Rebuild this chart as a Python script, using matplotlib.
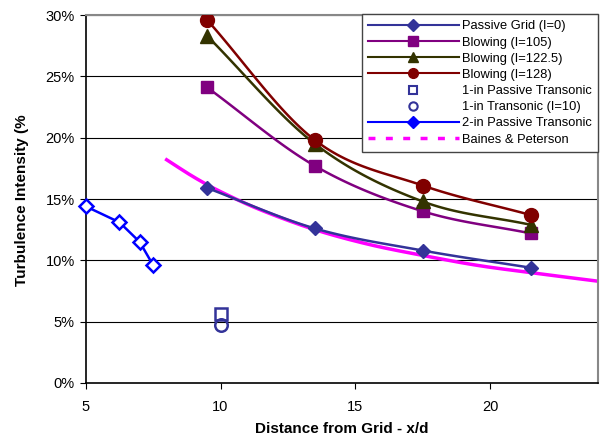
import matplotlib
matplotlib.use("Agg")
import matplotlib.pyplot as plt
from matplotlib.lines import Line2D
import numpy as np

plt.rcParams["font.family"] = ["Liberation Sans", "DejaVu Sans"]

# data (x/d, turbulence intensity %)
grid_x = [9.5, 13.5, 17.5, 21.5]
passive_grid = [15.9, 12.6, 10.8, 9.4]
blowing_105 = [24.1, 17.7, 14.0, 12.2]
blowing_1225 = [28.3, 19.5, 14.8, 12.9]
blowing_128 = [29.6, 19.8, 16.1, 13.7]

one_in_x = [10]
one_in_passive = [5.6]
one_in_transonic = [4.7]

two_in_x = [5.0, 6.25, 7.0, 7.5]
two_in_passive = [14.4, 13.1, 11.5, 9.6]

baines_x = [8, 9, 10, 11.5, 13.5, 15.5, 17.5, 19.5, 21.5, 24]
baines_y = [18.2, 16.8, 15.6, 14.1, 12.5, 11.3, 10.4, 9.6, 9.0, 8.3]

x_ticks = [5, 10, 15, 20]
y_ticks = [0, 5, 10, 15, 20, 25, 30]


def smooth(x, y, n=30):
    # Catmull-Rom curve through the points, like Excel's smoothed line
    x = np.asarray(x, float)
    y = np.asarray(y, float)
    px = np.concatenate([[2 * x[0] - x[1]], x, [2 * x[-1] - x[-2]]])
    py = np.concatenate([[2 * y[0] - y[1]], y, [2 * y[-1] - y[-2]]])
    t = np.linspace(0, 1, n)
    xs, ys = [], []
    for i in range(1, len(px) - 2):
        for p, out in ((px, xs), (py, ys)):
            p0, p1, p2, p3 = p[i - 1], p[i], p[i + 1], p[i + 2]
            out.append(0.5 * (2 * p1 + (-p0 + p2) * t
                              + (2 * p0 - 5 * p1 + 4 * p2 - p3) * t ** 2
                              + (-p0 + 3 * p1 - 3 * p2 + p3) * t ** 3))
    return np.concatenate(xs), np.concatenate(ys)


def main():
    fig = plt.figure(figsize=(6.04, 4.42), dpi=100)
    ax = fig.add_axes([0.142, 0.1335, 0.848, 0.8325])

    for v in y_ticks[1:]:
        ax.axhline(v, color="black", lw=0.8, zorder=0)

    ax.plot(*smooth(baines_x, baines_y), color="#FF00FF", lw=2.5, zorder=2)

    series = [
        (passive_grid, "#333399", "D", 7),
        (blowing_105, "#800080", "s", 9),
        (blowing_1225, "#333300", "^", 10),
        (blowing_128, "#800000", "o", 10),
    ]
    for vals, col, mk, ms in series:
        ax.plot(*smooth(grid_x, vals), color=col, lw=1.8, zorder=3)
        ax.plot(grid_x, vals, ls="none", marker=mk, color=col, ms=ms, zorder=4)

    ax.plot(one_in_x, one_in_passive, ls="none", marker="s", ms=9,
            mfc="none", mec="#333399", mew=1.8, zorder=4)
    ax.plot(one_in_x, one_in_transonic, ls="none", marker="o", ms=9,
            mfc="none", mec="#333399", mew=1.8, zorder=4)
    ax.plot(two_in_x, two_in_passive, color="#0000FF", lw=1.8, marker="D",
            ms=7, mfc="white", mec="#0000FF", mew=1.8, zorder=4, clip_on=False)

    ax.set_xlim(5, 24)
    ax.set_ylim(0, 30)
    ax.set_xticks(x_ticks)
    ax.set_yticks(y_ticks)
    ax.set_yticklabels([f"{v}%" for v in y_ticks])
    ax.tick_params(labelsize=10.5, direction="out", length=4, color="black", pad=8)
    ax.tick_params(axis="y", pad=4)
    for s in ("left", "bottom"):
        ax.spines[s].set_color("black")
        ax.spines[s].set_linewidth(1.2)
    for s in ("top", "right"):
        ax.spines[s].set_color("#888888")
        ax.spines[s].set_linewidth(1.5)

    ax.set_xlabel("Distance from Grid - x/d", fontsize=11, fontweight="bold",
                  labelpad=6)
    fig.text(0.036, 0.547, "Turbulence Intensity (%", rotation=90, fontsize=11,
             fontweight="bold", ha="center", va="center")

    handles = [
        Line2D([], [], color="#333399", lw=1.5, marker="D", ms=6),
        Line2D([], [], color="#800080", lw=1.5, marker="s", ms=7),
        Line2D([], [], color="#333300", lw=1.5, marker="^", ms=7),
        Line2D([], [], color="#800000", lw=1.5, marker="o", ms=7),
        Line2D([], [], ls="none", marker="s", ms=6, mfc="none", mec="#333399", mew=1.5),
        Line2D([], [], ls="none", marker="o", ms=6, mfc="none", mec="#333399", mew=1.5),
        Line2D([], [], color="#0000FF", lw=1.5, marker="D", ms=6),
        Line2D([], [], color="#FF00FF", lw=2.5, ls=(0, (2, 3))),
    ]
    labels = ["Passive Grid (I=0)", "Blowing (I=105)", "Blowing (I=122.5)",
              "Blowing (I=128)", "1-in Passive Transonic", "1-in Transonic (I=10)",
              "2-in Passive Transonic", "Baines & Peterson"]
    leg = ax.legend(handles, labels, loc="upper right", bbox_to_anchor=(1.0, 1.003),
                    fontsize=9.3, frameon=True, fancybox=False, handlelength=7.0,
                    handletextpad=0.25, labelspacing=0.32, borderpad=0.5,
                    borderaxespad=0)
    leg.get_frame().set_edgecolor("#444444")
    leg.get_frame().set_linewidth(1.0)
    leg.get_frame().set_alpha(1)

    fig.savefig("out.png", dpi=100)


if __name__ == "__main__":
    main()
